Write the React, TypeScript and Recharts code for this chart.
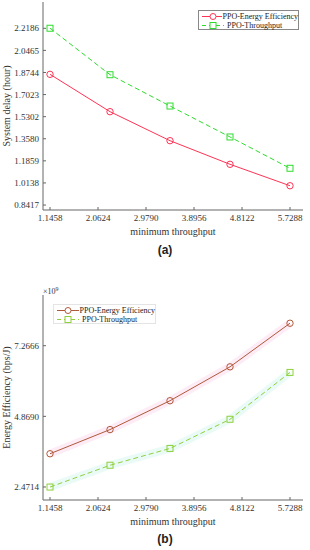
import React from "react";
import { LineChart, Line, XAxis, YAxis, Label } from "recharts";

// x positions of the five runs (minimum throughput)
const minThroughput = [1.1458, 2.2916, 3.4373, 4.5831, 5.7288];
// (a) system delay, hours
const delayEnergyEff = [1.86, 1.569, 1.343, 1.159, 0.992];
const delayThroughput = [2.219, 1.857, 1.613, 1.372, 1.128];
// (b) energy efficiency, x10^9 bps/J
const effEnergyEff = [3.6, 4.42, 5.4, 6.55, 8.03];
const effThroughput = [2.47, 3.21, 3.78, 4.77, 6.36];

const xTicks = [1.1458, 2.0624, 2.979, 3.8956, 4.8122, 5.7288];
const delayTicks = [0.8417, 1.0138, 1.1859, 1.358, 1.5302, 1.7023, 1.8744, 2.0465, 2.2186];
const effTicks = [2.4714, 4.869, 7.2666];

const seriesNames = ["PPO-Energy Efficiency", "PPO-Throughput"];

const delayData = minThroughput.map((x, i) => ({
  x,
  ee: delayEnergyEff[i],
  tp: delayThroughput[i],
}));
const effData = minThroughput.map((x, i) => ({
  x,
  ee: effEnergyEff[i],
  tp: effThroughput[i],
}));

const FONT = "Liberation Serif, Times New Roman, serif";
const AXIS = "#666";
const tickStyle = { fontSize: 9, fill: "#333", fontFamily: FONT };
const fmt = (v: number) => v.toFixed(4);

const circleDot = (color: string) => (p: any) =>
  <circle key={p.index} cx={p.cx} cy={p.cy} r={3.2} fill="none" stroke={color} strokeWidth={1} />;
const squareDot = (color: string) => (p: any) =>
  <rect key={p.index} x={p.cx - 3} y={p.cy - 3} width={6} height={6} fill="none" stroke={color} strokeWidth={1} />;

function LegendBox({ left, top, width, red, green, border }: any) {
  return (
    <div
      style={{
        position: "absolute",
        left,
        top,
        width,
        height: 20,
        border: `1px solid ${border}`,
        background: "#fff",
        fontFamily: FONT,
        fontSize: 8,
        color: "#222",
        lineHeight: "9px",
        padding: "1px 0 0 1px",
        boxSizing: "border-box",
        whiteSpace: "nowrap",
      }}
    >
      <div style={{ display: "flex", alignItems: "center" }}>
        <svg width={26} height={9}>
          <line x1={2} y1={4.5} x2={24} y2={4.5} stroke={red} />
          <circle cx={13} cy={4.5} r={3} fill="#fff" stroke={red} />
        </svg>
        <span style={{ marginLeft: 1 }}>{seriesNames[0]}</span>
      </div>
      <div style={{ display: "flex", alignItems: "center" }}>
        <svg width={26} height={9}>
          <line x1={2} y1={4.5} x2={24} y2={4.5} stroke={green} strokeDasharray="4 3" />
          <rect x={10} y={1.5} width={6} height={6} fill="#fff" stroke={green} />
        </svg>
        <span style={{ marginLeft: 1 }}>{seriesNames[1]}</span>
      </div>
    </div>
  );
}

export default function App() {
  const redA = "#ff3355";
  const greenA = "#2edc2e";
  const redB = "#b05a3a";
  const greenB = "#8fd03a";

  const box = (yDomain: number[], yTicks: number[], yLabel: string) => [
    <XAxis
      key="xb"
      xAxisId="b"
      dataKey="x"
      type="number"
      domain={[1.012, 5.977]}
      ticks={xTicks}
      tickFormatter={fmt}
      interval={0}
      tick={tickStyle}
      tickSize={-3}
      tickMargin={8}
      height={30}
      stroke={AXIS}
      allowDataOverflow
    >
      <Label
        value="minimum throughput"
        position="insideBottom"
        offset={5}
        style={{ fontSize: 10, fill: "#333", fontFamily: FONT }}
      />
    </XAxis>,
    <XAxis
      key="xt"
      xAxisId="t"
      orientation="top"
      dataKey="x"
      type="number"
      domain={[1.012, 5.977]}
      ticks={xTicks}
      tick={false}
      tickSize={-3}
      height={0}
      stroke={AXIS}
      allowDataOverflow
    />,
    <YAxis
      key="yl"
      yAxisId="l"
      type="number"
      domain={yDomain}
      ticks={yTicks}
      tickFormatter={fmt}
      interval={0}
      tick={tickStyle}
      tickSize={-3}
      tickMargin={7}
      width={43}
      stroke={AXIS}
      allowDataOverflow
    >
      <Label
        value={yLabel}
        angle={-90}
        position="insideLeft"
        offset={6}
        style={{ fontSize: 10, fill: "#333", fontFamily: FONT, textAnchor: "middle" }}
      />
    </YAxis>,
    <YAxis
      key="yr"
      yAxisId="r"
      orientation="right"
      type="number"
      domain={yDomain}
      ticks={yTicks}
      tick={false}
      tickSize={-3}
      width={0}
      stroke={AXIS}
      allowDataOverflow
    />,
  ];

  return (
    <div
      style={{
        position: "absolute",
        left: 0,
        top: 0,
        width: 310,
        height: 550,
        background: "#fff",
        fontFamily: FONT,
      }}
    >
      <div style={{ position: "absolute", left: 0, top: 0 }}>
        <LineChart width={310} height={240} data={delayData} margin={{ top: 2, right: 7, bottom: 0, left: 0 }}>
          {box([0.803, 2.4235], delayTicks, "System delay (hour)")}
          <Line
            xAxisId="b"
            yAxisId="l"
            dataKey="ee"
            stroke={redA}
            strokeWidth={1}
            dot={circleDot(redA)}
            isAnimationActive={false}
          />
          <Line
            xAxisId="b"
            yAxisId="l"
            dataKey="tp"
            stroke={greenA}
            strokeWidth={1}
            strokeDasharray="5 3"
            dot={squareDot(greenA)}
            isAnimationActive={false}
          />
        </LineChart>
      </div>
      <LegendBox left={198} top={10} width={101} red={redA} green={greenA} border="#888" />
      <div
        style={{
          position: "absolute",
          left: 0,
          width: 330,
          top: 243,
          textAlign: "center",
          fontFamily: "Liberation Sans, Arial, sans-serif",
          fontWeight: "bold",
          fontSize: 12,
          color: "#222",
        }}
      >
        (a)
      </div>

      <div style={{ position: "absolute", left: 0, top: 280 }}>
        <LineChart width={310} height={250} data={effData} margin={{ top: 15, right: 7, bottom: 0, left: 0 }}>
          {box([2.03, 8.988], effTicks, "Energy Efficiency (bps/J)")}
          <Line
            xAxisId="b"
            yAxisId="l"
            dataKey="ee"
            stroke="#fcdcee"
            strokeWidth={8}
            strokeOpacity={0.55}
            dot={false}
            legendType="none"
            isAnimationActive={false}
          />
          <Line
            xAxisId="b"
            yAxisId="l"
            dataKey="tp"
            stroke="#d8f8f1"
            strokeWidth={8}
            strokeOpacity={0.55}
            dot={false}
            legendType="none"
            isAnimationActive={false}
          />
          <Line
            xAxisId="b"
            yAxisId="l"
            dataKey="ee"
            stroke={redB}
            strokeWidth={1}
            dot={circleDot(redB)}
            isAnimationActive={false}
          />
          <Line
            xAxisId="b"
            yAxisId="l"
            dataKey="tp"
            stroke={greenB}
            strokeWidth={1}
            strokeDasharray="5 3"
            dot={squareDot(greenB)}
            isAnimationActive={false}
          />
        </LineChart>
      </div>
      <div
        style={{
          position: "absolute",
          left: 43,
          top: 285,
          fontFamily: FONT,
          fontSize: 8,
          color: "#333",
          lineHeight: "8px",
        }}
      >
        ×10<sup style={{ fontSize: 6, verticalAlign: "3px" }}>9</sup>
      </div>
      <LegendBox left={53} top={304} width={103} red={redB} green={greenB} border="#e4e4e4" />
      <div
        style={{
          position: "absolute",
          left: 0,
          width: 330,
          top: 532,
          textAlign: "center",
          fontFamily: "Liberation Sans, Arial, sans-serif",
          fontWeight: "bold",
          fontSize: 12,
          color: "#222",
        }}
      >
        (b)
      </div>
    </div>
  );
}
